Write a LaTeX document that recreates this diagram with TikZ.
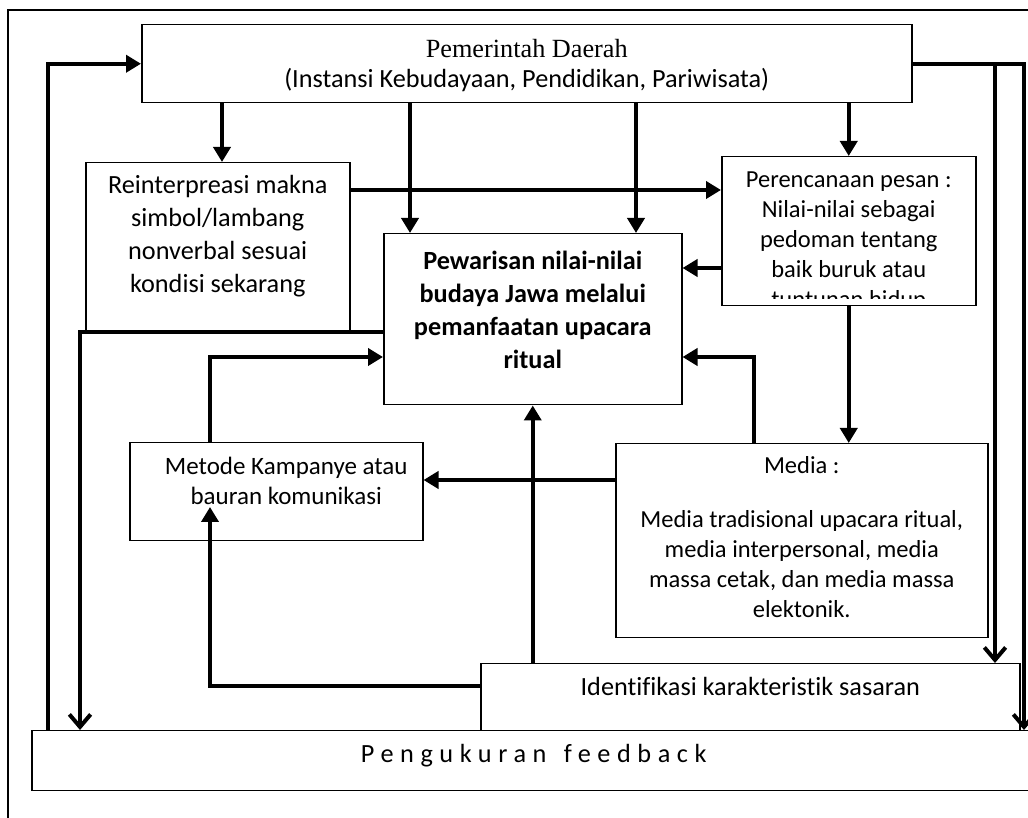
\documentclass[tikz,border=0pt]{standalone}
\usepackage{fontspec}
\setmainfont{Carlito}[Ligatures=NoCommon]
\newfontfamily\timesfont{Liberation Serif}
\usetikzlibrary{arrows.meta}
\newlength\px
\setlength\px{0.4pt}

\begin{document}
\begin{tikzpicture}[
        x=0.4pt, y=-0.4pt,
        box/.style={draw, line width=0.6pt, anchor=north west, inner sep=0pt},
        txt/.style={align=center, anchor=north, inner sep=0pt, font=\fontsize{10.5}{13.2}\selectfont},
        flow/.style={line width=1.6pt, -{Triangle[width=6.8pt, length=6pt]}},
        back/.style={line width=1.6pt, -{Straight Barb[width=8.5pt, length=5pt]}},
        frame/.style={line width=0.5pt}
    ]
        \useasboundingbox (0,0) rectangle (1028,818);
        \draw[frame] (8,818) -- (8,10) -- (1028,10);

        % Kotak-kotak
        \node[box, minimum width=770\px, minimum height=78\px] (pemda) at (141,24) {};
        \node[box, minimum width=264\px, minimum height=170\px] (reinterp) at (85,162) {};
        \node[box, minimum width=298\px, minimum height=171\px] (pewarisan) at (383,233) {};
        \node[box, minimum width=254\px, minimum height=149\px] (rencana) at (721,156) {};
        \node[box, minimum width=293\px, minimum height=98\px] (metode) at (129,442) {};
        \node[box, minimum width=372\px, minimum height=194\px] (media) at (615,443) {};
        \node[box, minimum width=539\px, minimum height=67\px] (ident) at (480,663) {};
        \node[box, minimum width=1010\px, minimum height=60\px] (ukur) at (31,730) {};

        % Teks
        \node[txt, font=\fontsize{10.5}{12}\selectfont] (pemda-t) at ([yshift=-15\px]pemda.north)
            {\timesfont Pemerintah Daerah\\(Instansi Kebudayaan, Pendidikan, Pariwisata)};
        \node[txt] (reinterp-t) at ([yshift=-13\px]reinterp.north)
            {Reinterpreasi makna\\simbol/lambang\\nonverbal sesuai\\kondisi sekarang};
        \node[txt, font=\fontsize{10.5}{13.2}\selectfont\bfseries] (pewarisan-t) at ([yshift=-18\px]pewarisan.north)
            {Pewarisan nilai-nilai\\budaya Jawa melalui\\pemanfaatan upacara\\ritual};
        \begin{scope}
            \clip (rencana.north west) rectangle ([yshift=8\px]rencana.south east);
            \node[txt, font=\fontsize{9.8}{12}\selectfont] (rencana-t) at ([yshift=-15\px]rencana.north)
                {Perencanaan pesan :\\Nilai-nilai sebagai\\pedoman tentang\\baik buruk atau\\tuntunan hidup};
        \end{scope}
        \node[txt, font=\fontsize{10}{11.8}\selectfont] (metode-t) at ([xshift=10\px, yshift=-15\px]metode.north)
            {Metode Kampanye atau\\bauran komunikasi};
        \node[txt, font=\fontsize{9.8}{12}\selectfont] (media-t) at ([yshift=-13\px]media.north)
            {Media :\\[9.4pt]Media tradisional upacara ritual,\\media interpersonal, media\\massa cetak, dan media massa\\elektonik.};
        \node[txt] (ident-t) at ([yshift=-14\px]ident.north) {Identifikasi karakteristik sasaran};
        \node[txt, font=\fontsize{10.5}{13.2}\selectfont\addfontfeature{LetterSpace=25}] (ukur-t)
            at ([xshift=-3\px, yshift=-14\px]ukur.north) {Pengukuran\hspace{2pt} feedback};

        % Titik bantu
        \coordinate (xA) at (48,0);
        \coordinate (xB) at (80,0);
        \coordinate (xC) at (210,0);
        \coordinate (xD) at (222,0);
        \coordinate (xE) at (410,0);
        \coordinate (xF) at (636,0);
        \coordinate (xH) at (754,0);
        \coordinate (xJ) at (995,0);
        \coordinate (xK) at (1024,0);
        \coordinate (yR) at (0,190);
        \coordinate (yS) at (0,268);
        \coordinate (yV) at (0,332);
        \coordinate (yM) at (0,357);
        \coordinate (yT) at (0,480);
        \coordinate (yU) at (0,686);
        \coordinate (mtip) at (210,507);

        % Panah
        \draw[flow] (xA |- ukur.north) |- (pemda.west);
        \draw[flow] (pemda.south -| xD) -- (reinterp.north -| xD);
        \draw[flow] (pemda.south -| xE) -- (pewarisan.north -| xE);
        \draw[flow] (pemda.south -| xF) -- (pewarisan.north -| xF);
        \draw[flow] (pemda.south -| rencana.north) -- (rencana.north);
        \draw[flow] (reinterp.east |- yR) -- (rencana.west |- yR);
        \draw[flow] (rencana.west |- yS) -- (pewarisan.east |- yS);
        \draw[flow] (rencana.south) -- (media.north -| rencana.south);
        \draw[flow] (media.north -| xH) |- (pewarisan.east |- yM);
        \draw[flow] (metode.north -| xC) |- (pewarisan.west |- yM);
        \draw[flow] (media.west |- yT) -- (metode.east |- yT);
        \draw[flow] (ident.north -| pewarisan.south) -- (pewarisan.south);
        \draw[flow] (ident.west |- yU) -| (mtip);
        \draw[back] (pewarisan.west |- yV) -| (xB |- ukur.north);
        \draw[back] (pemda.east) -| (xK |- ukur.north);
        \draw[back] (xJ |- pemda.east) -- (xJ |- ident.north);
    \end{tikzpicture}
\end{document}
